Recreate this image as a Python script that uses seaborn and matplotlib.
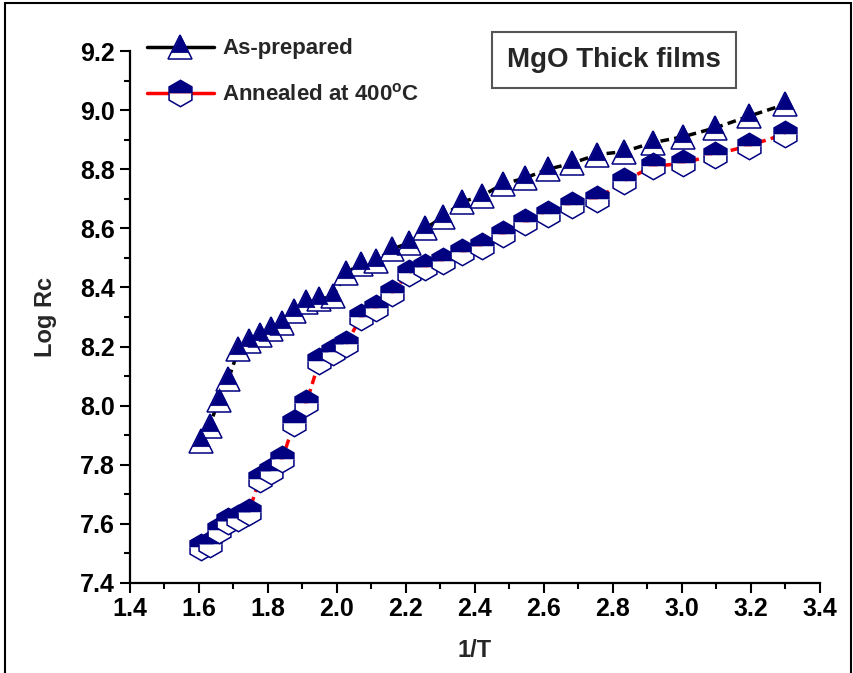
import matplotlib
matplotlib.use("Agg")
import matplotlib.pyplot as plt
import seaborn as sns
import pandas as pd
from matplotlib.lines import Line2D
from matplotlib.patches import Rectangle
from matplotlib.path import Path

# data
inv_t = [1.605, 1.631, 1.658, 1.686, 1.715, 1.745, 1.776, 1.808, 1.842, 1.876,
         1.912, 1.949, 1.988, 2.028, 2.070, 2.114, 2.160, 2.208, 2.257, 2.309,
         2.364, 2.421, 2.481, 2.545, 2.611, 2.681, 2.755, 2.833, 2.915, 3.003,
         3.096, 3.195, 3.300]
as_prepared = [7.88, 7.93, 8.02, 8.09, 8.19, 8.22, 8.24, 8.26, 8.28, 8.32,
               8.35, 8.36, 8.37, 8.45, 8.48, 8.49, 8.53, 8.55, 8.60, 8.64,
               8.69, 8.71, 8.75, 8.77, 8.80, 8.82, 8.85, 8.86, 8.89, 8.91,
               8.94, 8.98, 9.02]
annealed = [7.52, 7.53, 7.58, 7.61, 7.62, 7.64, 7.75, 7.78, 7.82, 7.94,
            8.01, 8.15, 8.18, 8.21, 8.30, 8.33, 8.38, 8.45, 8.47, 8.49,
            8.52, 8.54, 8.58, 8.62, 8.65, 8.68, 8.70, 8.76, 8.81, 8.82,
            8.85, 8.88, 8.92]
labels = ["As-prepared", r"Annealed at 400$^{\mathbf{o}}$C"]

df = pd.DataFrame({"x": inv_t, "a": as_prepared, "b": annealed})

sns.set_theme(style="ticks")
plt.rcParams["font.family"] = ["Liberation Sans", "DejaVu Sans"]
plt.rcParams["font.weight"] = "bold"
plt.rcParams["mathtext.fontset"] = "custom"
plt.rcParams["mathtext.rm"] = "Liberation Sans:bold"
plt.rcParams["mathtext.bf"] = "Liberation Sans:bold"

navy = "#000080"
# top part of the triangle (same tip so it scales like '^')
tri_top = Path([(0, 1), (-0.72, -0.44), (0.72, -0.44), (0, 1)],
               [Path.MOVETO, Path.LINETO, Path.LINETO, Path.CLOSEPOLY])

fig = plt.figure(figsize=(8.54, 6.73), dpi=100)
ax = fig.add_axes([0.152, 0.134, 0.808, 0.790])

tri_ms, hex_ms = 17, 19
sns.lineplot(data=df, x="x", y="a", ax=ax, color="black", lw=2.5,
             linestyle=(0, (2.5, 1.5)), marker="^", ms=tri_ms,
             mfc="white", mec=navy, mew=1.1)
ax.plot(df["x"], df["a"], ls="none", marker=tri_top, ms=tri_ms,
        mfc=navy, mec=navy, mew=0.5)
sns.lineplot(data=df, x="x", y="b", ax=ax, color="red", lw=2.5,
             linestyle=(0, (2.5, 1.5)), marker="h", ms=hex_ms,
             mfc=navy, mec=navy, mfcalt="white", fillstyle="top", mew=1.1)

ax.set_xlim(1.4, 3.4)
ax.set_ylim(7.4, 9.2)
ax.set_xticks([1.4 + 0.2 * i for i in range(11)])
ax.set_yticks([7.4 + 0.2 * i for i in range(10)])
ax.set_xticks([1.5 + 0.2 * i for i in range(10)], minor=True)
ax.set_yticks([7.5 + 0.2 * i for i in range(9)], minor=True)
ax.xaxis.set_major_formatter(matplotlib.ticker.FormatStrFormatter("%.1f"))
ax.yaxis.set_major_formatter(matplotlib.ticker.FormatStrFormatter("%.1f"))
ax.tick_params(which="major", direction="out", length=7, width=1.5,
               labelsize=18, color="black", labelcolor="black")
ax.tick_params(which="minor", direction="out", length=4, width=1.5, color="black")
for s in ["top", "right"]:
    ax.spines[s].set_visible(False)
for s in ["left", "bottom"]:
    ax.spines[s].set_linewidth(1.6)
    ax.spines[s].set_color("black")
ax.set_xlabel("1/T", fontsize=17, fontweight="bold", labelpad=13)
ax.set_ylabel("Log Rc", fontsize=17, fontweight="bold", labelpad=17)
ax.grid(False)

h1 = (Line2D([], [], color="black", lw=2.5, marker="^", ms=tri_ms,
             mfc="white", mec=navy, mew=1.1),
      Line2D([], [], ls="none", marker=tri_top, ms=tri_ms, mfc=navy, mec=navy, mew=0.5))
h2 = Line2D([], [], color="red", lw=2.5, marker="h", ms=hex_ms,
            mfc=navy, mec=navy, mfcalt="white", fillstyle="top", mew=1.1)
fig.legend([h1, h2], labels, loc="upper left", bbox_to_anchor=(0.172, 0.943),
           frameon=False, handlelength=3.0, handletextpad=0.4,
           labelspacing=1.1, borderpad=0, borderaxespad=0,
           prop={"weight": "bold", "size": 16})

fig.text(0.719, 0.911, "MgO Thick films", ha="center", va="center",
         fontsize=20, fontweight="bold",
         bbox=dict(boxstyle="square,pad=0.55", fc="white", ec="#555555", lw=1.5))

fig.patches.append(Rectangle((0.006, -0.01), 0.991, 1.005, transform=fig.transFigure,
                             fill=False, ec="black", lw=1.5))

fig.savefig("out.png", dpi=100)
